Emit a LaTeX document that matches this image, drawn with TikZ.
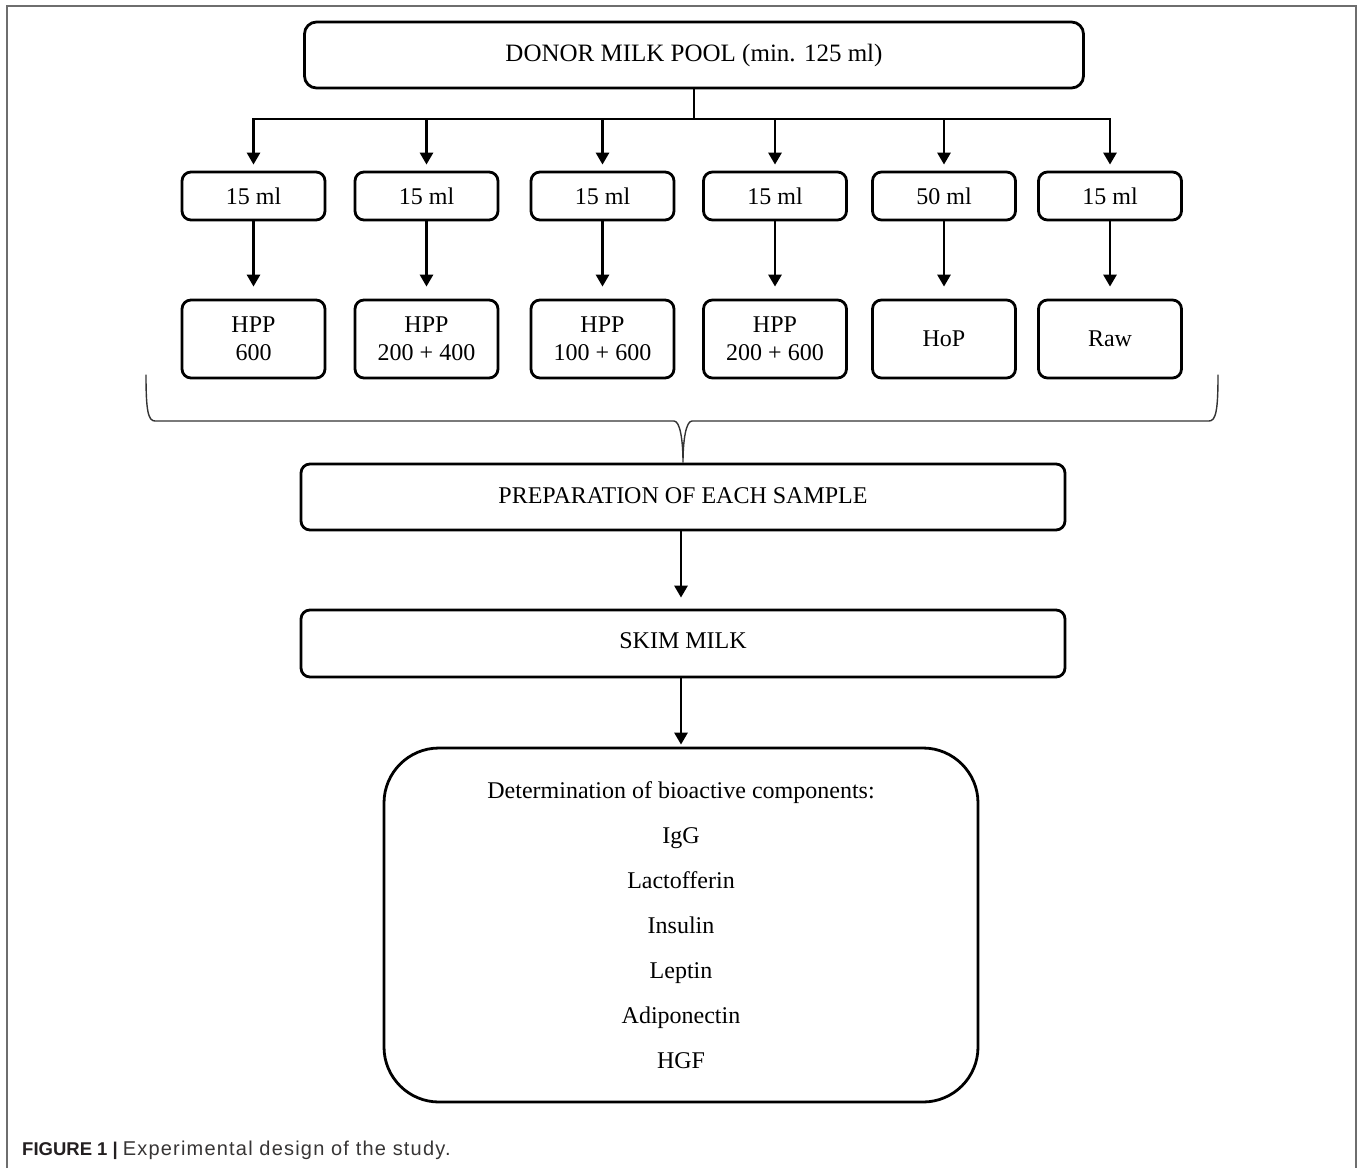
\documentclass[tikz,border=0pt]{standalone}
\usepackage{fontspec}
\setmainfont{Liberation Serif}
\newfontfamily\capfont{Liberation Sans}
\newfontfamily\capfontwide[LetterSpace=6]{Liberation Sans}
\usetikzlibrary{arrows.meta,calc}
\definecolor{framegray}{RGB}{110,110,110}
\definecolor{captext}{RGB}{35,31,32}
\definecolor{capreg}{RGB}{55,53,53}
\tikzset{
  box/.style={draw=black, line width=2.8pt, rounded corners=9pt, inner sep=0pt,
    align=center, font=\fontsize{24}{28}\selectfont},
  smallbox/.style={box, minimum width=143pt, minimum height=48pt},
  procbox/.style={box, minimum width=143pt, minimum height=78pt},
  widebox/.style={box, minimum width=764pt, minimum height=66pt},
  link/.style={line width=2.8pt, black},
  arr/.style={link, -{Triangle[width=13pt,length=12pt]}},
  bracepath/.style={line width=1.4pt, black!80, line cap=round}
}
\begin{document}
\begin{tikzpicture}[x=1pt,y=-1pt]
\useasboundingbox (0,0) rectangle (1360,1168);
% frame
\draw[framegray, line width=2pt] (7,1168) -- (7,6) -- (1356,6) -- (1356,1168);

% top box
\node[box, minimum width=779pt, minimum height=66pt, rounded corners=12pt,
  font=\fontsize{25}{28}\selectfont] (pool) at (694,55) {\raisebox{3pt}{DONOR MILK POOL (min. 125 ml)}};

% row 1
\node[smallbox] (a1) at (253.5,196) {15 ml};
\node[smallbox] (a2) at (426.5,196) {15 ml};
\node[smallbox] (a3) at (602.5,196) {15 ml};
\node[smallbox] (a4) at (775,196) {15 ml};
\node[smallbox] (a5) at (944,196) {50 ml};
\node[smallbox] (a6) at (1110,196) {15 ml};

% row 2
\node[procbox] (b1) at (253.5,339) {HPP\\600};
\node[procbox] (b2) at (426.5,339) {HPP\\200 + 400};
\node[procbox] (b3) at (602.5,339) {HPP\\100 + 600};
\node[procbox] (b4) at (775,339) {HPP\\200 + 600};
\node[procbox] (b5) at (944,339) {HoP};
\node[procbox] (b6) at (1110,339) {Raw};

% branch
\coordinate (br) at (694,119);
\draw[link] (pool.south) -- (br);
\draw[link, line cap=rect] (a1 |- br) -- (a6 |- br);
\foreach \i in {1,...,6}{
  \draw[arr, shorten >=6pt] (a\i |- br) -- (a\i.north);
  \draw[arr, shorten >=12pt] (a\i.south) -- (b\i.north);
}

% preparation and skim
\node[widebox] (prep) at (683,497) {\raisebox{3pt}{PREPARATION OF EACH SAMPLE}};
\node[widebox, minimum height=67pt] (skim) at (683,643.5) {\raisebox{6pt}{SKIM MILK}};

% brace
\coordinate (bl) at (146,375);
\coordinate (brr) at (1218,375);
\draw[bracepath] (bl) .. controls (146,410) and (148,421) .. (155,421)
  -- (674,421) .. controls (680,421) and (683,440) .. (prep.north)
  .. controls (683,440) and (686,421) .. (692,421)
  -- (1209,421) .. controls (1216,421) and (1218,410) .. (brr);

% final box
\node[box, minimum width=594pt, minimum height=354pt, rounded corners=55pt,
  font=\fontsize{24}{45}\selectfont] (det) at (681,925)
  {Determination of bioactive components:\\IgG\\Lactofferin\\Insulin\\Leptin\\Adiponectin\\HGF};

\draw[arr, shorten >=11pt] (prep.south -| det.north) -- (skim.north -| det.north);
\draw[arr, shorten >=2pt] (skim.south -| det.north) -- (det.north);

% caption
\node[anchor=base west, inner sep=0pt]
  (cap) at (22,1155) {\capfont\fontsize{18.5}{20}\selectfont\color{captext}\textbf{FIGURE 1 |}\hspace{5pt}\capfontwide\fontsize{20}{20}\selectfont\color{capreg}Experimental design of the study.};
\end{tikzpicture}
\end{document}
